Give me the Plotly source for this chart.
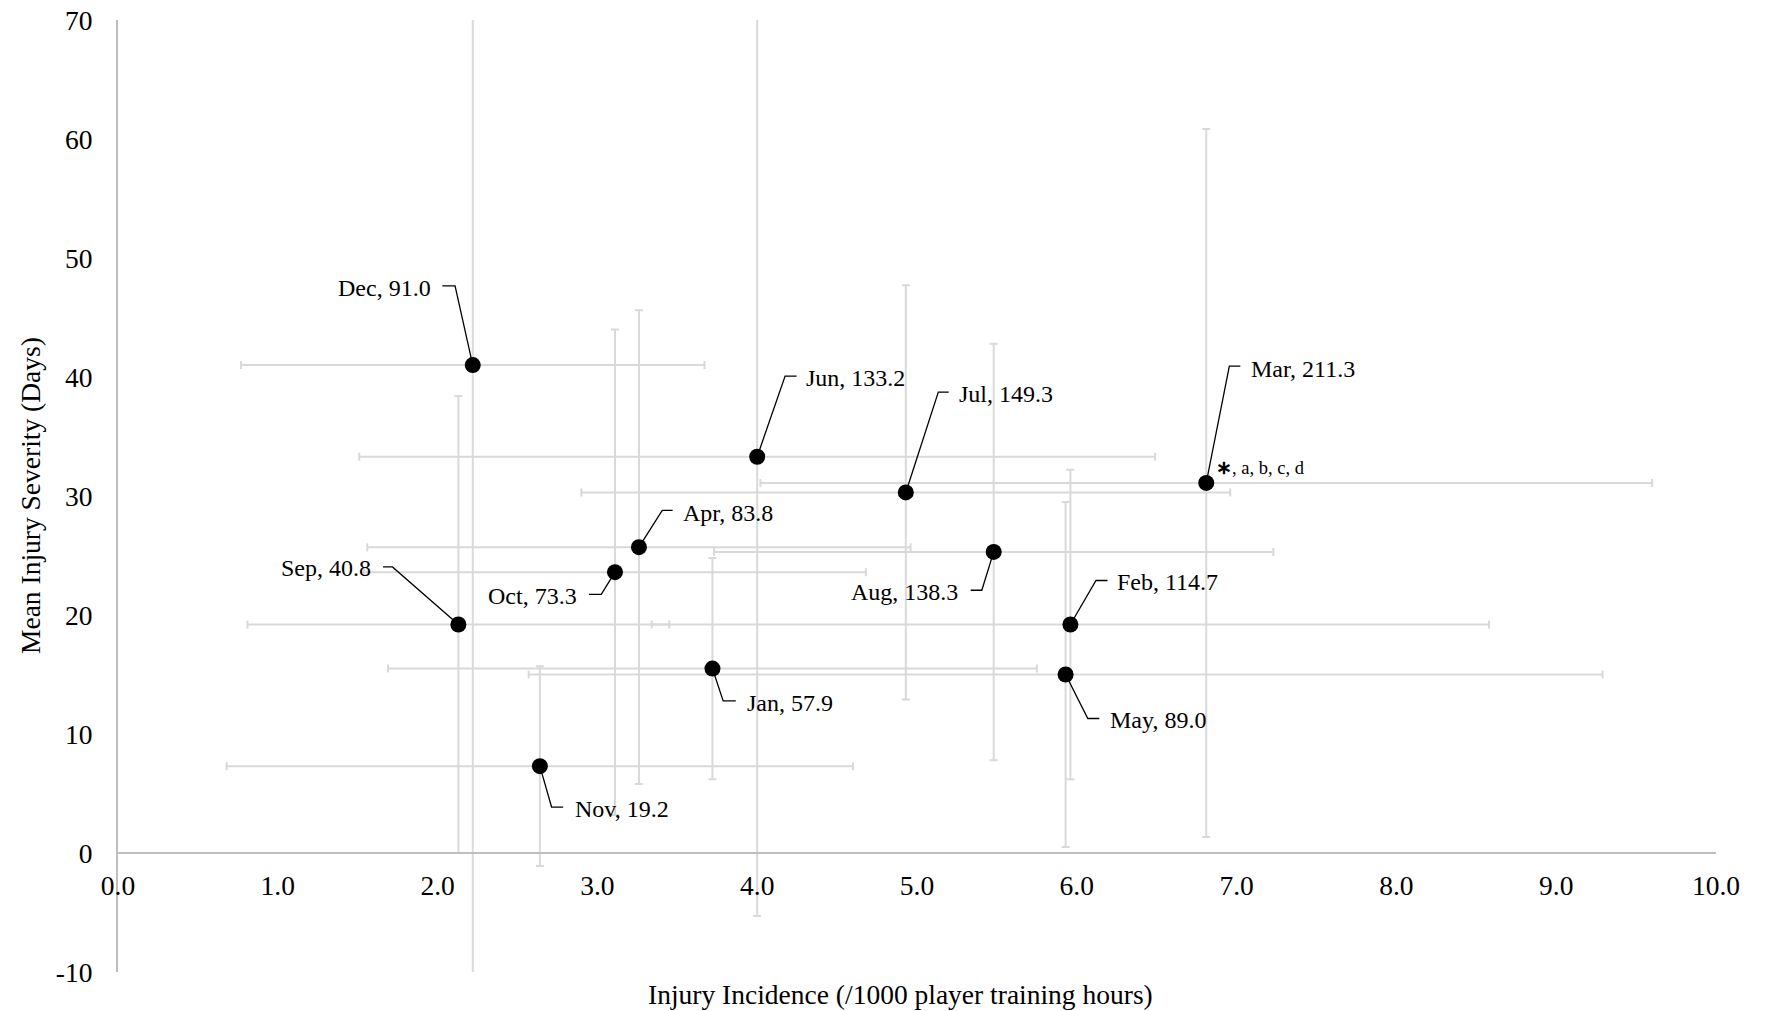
import plotly.graph_objects as go

# ---------------- data ----------------
months = ["Jan", "Feb", "Mar", "Apr", "May", "Jun", "Jul", "Aug", "Sep", "Oct", "Nov", "Dec"]
label_values = [57.9, 114.7, 211.3, 83.8, 89.0, 133.2, 149.3, 138.3, 40.8, 73.3, 19.2, 91.0]
incidence = [3.72, 5.96, 6.81, 3.26, 5.93, 4.00, 4.93, 5.48, 2.13, 3.11, 2.64, 2.22]
incidence_err = [2.03, 2.62, 2.79, 1.70, 3.36, 2.49, 2.03, 1.75, 1.32, 1.57, 1.96, 1.45]
severity = [15.5, 19.2, 31.1, 25.7, 15.0, 33.3, 30.3, 25.3, 19.2, 23.6, 7.3, 41.0]
severity_err = [9.3, 13.0, 29.75, 19.9, 14.5, 38.6, 17.4, 17.5, 19.2, 20.4, 8.4, 55.0]

x_tick_vals = [0, 1, 2, 3, 4, 5, 6, 7, 8, 9, 10]
x_tick_text = ["0.0", "1.0", "2.0", "3.0", "4.0", "5.0", "6.0", "7.0", "8.0", "9.0", "10.0"]
y_tick_vals = [-10, 0, 10, 20, 30, 40, 50, 60, 70]
y_tick_text = ["-10", "0", "10", "20", "30", "40", "50", "60", "70"]

sig_month = "Mar"
sig_text = "<b>∗</b>, a, b, c, d"

x_title = "Injury Incidence (/1000 player training hours)"
y_title = "Mean Injury Severity (Days)"

# ---------------- layout / style constants ----------------
PAGE_OFFSET = 8                      # default body margin of the html page
W, H = 1765 - PAGE_OFFSET, 1011 - PAGE_OFFSET
ML, MR, MT, MB = 118 - PAGE_OFFSET, 49, 20 - PAGE_OFFSET, 39
FONT = "Liberation Serif, Times New Roman, serif"
GRID = "#d9d9d9"
AXIS = "#bfbfbf"

# callout geometry, in pixels relative to the point (x right, y up):
# (elbow_dx, elbow_dy, end_dx, text_dx, text_dy, side)
callouts = {
    "Dec": (-17.7, 79.3, -30.4, -39.6, 77.0, "right"),
    "Jun": (27.9, 80.7, 39.4, 47.1, 79.0, "left"),
    "Jul": (32.5, 100.3, 42.9, 51.3, 98.7, "left"),
    "Apr": (23.3, 36.7, 33.7, 41.7, 34.0, "left"),
    "Aug": (-11.9, -38.3, -23.0, -33.7, -40.0, "right"),
    "Feb": (25.6, 44.0, 37.1, 44.8, 42.3, "left"),
    "May": (22.2, -44.0, 33.7, 42.5, -45.5, "left"),
    "Jan": (10.7, -32.3, 23.3, 32.1, -34.0, "left"),
    "Oct": (-13.7, -22.2, -26.0, -36.0, -23.5, "right"),
    "Nov": (11.7, -40.9, 23.3, 32.7, -42.5, "left"),
    "Sep": (-65.9, 57.6, -75.3, -85.3, 57.0, "right"),
    "Mar": (23.1, 116.7, 34.1, 42.7, 114.0, "left"),
}

fig = go.Figure()

fig.add_trace(go.Scatter(
    x=incidence, y=severity, mode="markers",
    marker=dict(size=16, color="black", line=dict(width=0)),
    error_x=dict(type="data", array=incidence_err, symmetric=True,
                 color=GRID, thickness=2, width=4),
    error_y=dict(type="data", array=severity_err, symmetric=True,
                 color=GRID, thickness=2, width=4),
    cliponaxis=True, showlegend=False, hoverinfo="skip",
))

shapes = []
annotations = []
for m, lv, xv, yv in zip(months, label_values, incidence, severity):
    ex, ey, hx, tx, ty, side = callouts[m]
    shapes.append(dict(
        type="path", xref="x", yref="y", xsizemode="pixel", ysizemode="pixel",
        xanchor=xv, yanchor=yv,
        path=f"M 0,0 L {ex},{ey} L {hx},{ey}",
        line=dict(color="black", width=1.3), layer="above",
    ))
    annotations.append(dict(
        x=xv, y=yv, xref="x", yref="y", text=f"{m}, {lv:.1f}",
        showarrow=False, xanchor=side, yanchor="middle",
        xshift=tx, yshift=ty, font=dict(family=FONT, size=24, color="black"),
    ))
    if m == sig_month:
        annotations.append(dict(
            x=xv, y=yv, xref="x", yref="y", text=sig_text,
            showarrow=False, xanchor="left", yanchor="middle",
            xshift=8, yshift=15, font=dict(family=FONT, size=18.5, color="black"),
        ))

annotations.append(dict(
    x=(900 - PAGE_OFFSET - ML) / (W - ML - MR), y=0, xref="paper", yref="paper",
    yshift=-22, xanchor="center", yanchor="middle", showarrow=False, text=x_title,
    font=dict(family=FONT, size=27.5, color="black"),
))
annotations.append(dict(
    x=0, y=0.5, xref="paper", yref="paper", xshift=-(ML + PAGE_OFFSET - 30),
    xanchor="center", yanchor="middle", showarrow=False, text=y_title,
    textangle=-90, font=dict(family=FONT, size=27.5, color="black"),
))

fig.update_layout(
    width=W, height=H,
    margin=dict(l=ML, r=MR, t=MT, b=MB, pad=0, autoexpand=False),
    paper_bgcolor="white", plot_bgcolor="white",
    shapes=shapes, annotations=annotations,
    xaxis=dict(
        range=[0, 10], tickvals=x_tick_vals, ticktext=x_tick_text,
        showgrid=False, zeroline=False, showline=True, linecolor=AXIS, linewidth=2,
        ticks="", anchor="free", position=10 / 80, ticklabelstandoff=8,
        automargin=False, ticklabeloverflow="allow",
        tickfont=dict(family=FONT, size=27.5, color="black"),
    ),
    yaxis=dict(
        range=[-10, 70], tickvals=y_tick_vals, ticktext=y_tick_text,
        showgrid=False, zeroline=False, showline=True, linecolor=AXIS, linewidth=2,
        ticks="", ticklabelstandoff=18, automargin=False, ticklabeloverflow="allow",
        tickfont=dict(family=FONT, size=27.5, color="black"),
    ),
)

fig.write_html("out.html")
